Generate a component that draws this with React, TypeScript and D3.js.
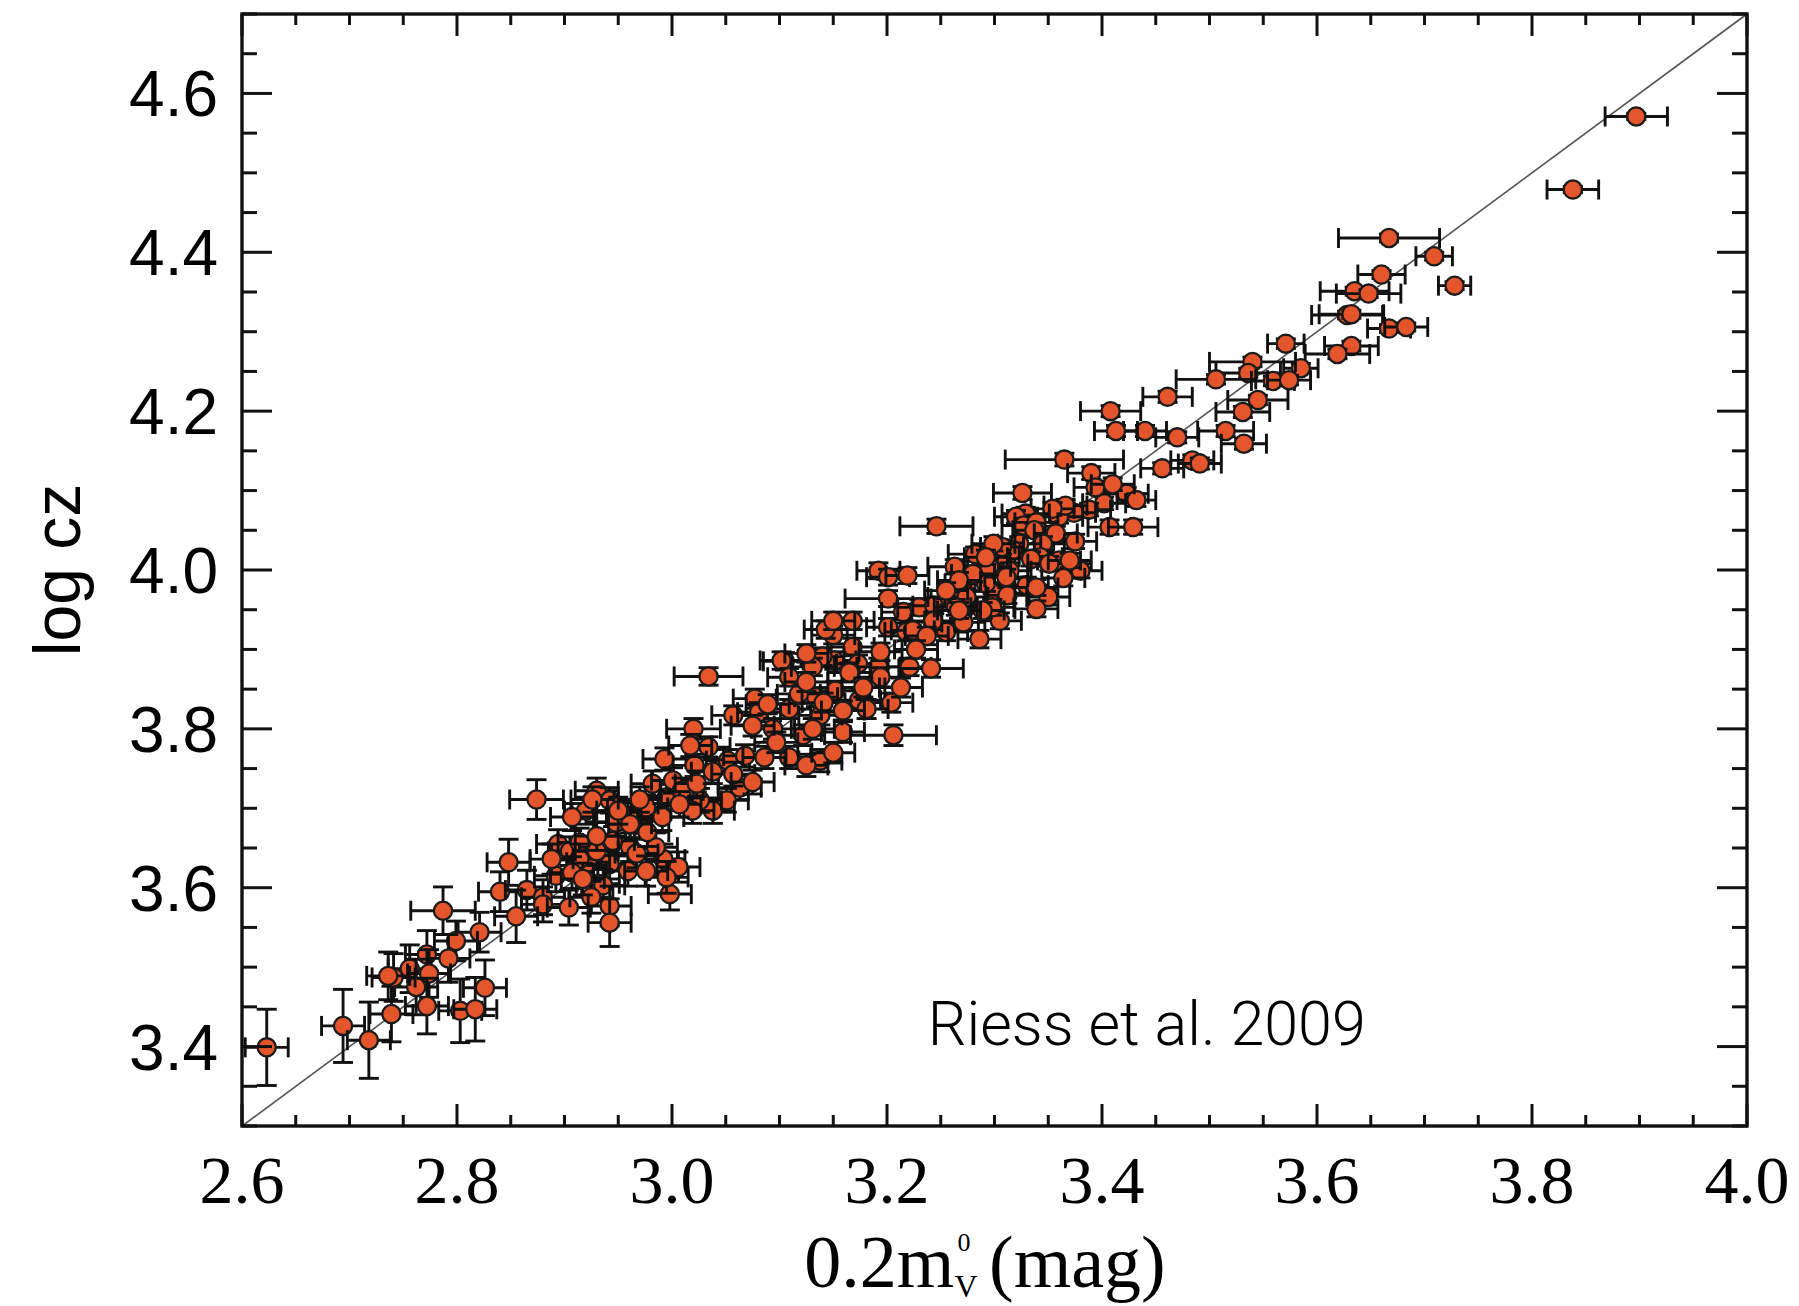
import React from 'react';
import * as d3 from 'd3';

// ---- axis definitions ----
const xDomain = [2.6, 4.0];
const yDomain = [3.3, 4.7];
const xMajorTicks = [2.6, 2.8, 3.0, 3.2, 3.4, 3.6, 3.8, 4.0];
const xTickLabels = ['2.6', '2.8', '3.0', '3.2', '3.4', '3.6', '3.8', '4.0'];
const yMajorTicks = [3.4, 3.6, 3.8, 4.0, 4.2, 4.4, 4.6];
const yTickLabels = ['3.4', '3.6', '3.8', '4.0', '4.2', '4.4', '4.6'];
const identityLine = [[2.6, 3.3], [4.0, 4.7]];
const annotation = { text: 'Riess et al. 2009', x: 3.238, y: 3.402 };

// ---- data: [0.2 m_V^0, log cz, x error, y error] ----
const highZ = [
  [3.897, 4.571, 0.029, 0.004], [3.838, 4.479, 0.024, 0.004], [3.667, 4.418, 0.047, 0.005],
  [3.709, 4.395, 0.017, 0.005], [3.728, 4.358, 0.015, 0.005], [3.660, 4.372, 0.022, 0.005],
  [3.635, 4.351, 0.032, 0.005], [3.648, 4.348, 0.030, 0.005], [3.628, 4.321, 0.033, 0.005],
  [3.632, 4.322, 0.030, 0.005], [3.667, 4.304, 0.020, 0.005], [3.683, 4.306, 0.020, 0.005],
  [3.632, 4.282, 0.025, 0.006], [3.619, 4.272, 0.030, 0.006], [3.571, 4.285, 0.017, 0.006],
  [3.585, 4.254, 0.016, 0.006], [3.540, 4.262, 0.040, 0.006], [3.536, 4.248, 0.030, 0.006],
  [3.559, 4.238, 0.020, 0.006], [3.574, 4.239, 0.020, 0.006], [3.506, 4.240, 0.037, 0.006],
  [3.545, 4.214, 0.028, 0.006], [3.531, 4.199, 0.025, 0.007], [3.461, 4.218, 0.023, 0.007],
  [3.515, 4.175, 0.026, 0.007], [3.532, 4.159, 0.021, 0.007], [3.470, 4.167, 0.020, 0.007],
  [3.440, 4.175, 0.020, 0.007], [3.456, 4.128, 0.020, 0.007], [3.484, 4.138, 0.020, 0.007],
  [3.491, 4.134, 0.020, 0.007], [3.408, 4.200, 0.028, 0.007], [3.413, 4.175, 0.020, 0.007],
  [3.365, 4.139, 0.055, 0.008], [3.390, 4.122, 0.022, 0.008], [3.394, 4.104, 0.020, 0.008],
  [3.410, 4.108, 0.020, 0.008],
];

const midUpper = [
  [3.326, 4.097, 0.027, 0.008], [3.423, 4.096, 0.020, 0.008], [3.432, 4.088, 0.018, 0.008],
  [3.402, 4.084, 0.020, 0.008], [3.388, 4.076, 0.020, 0.008], [3.374, 4.072, 0.020, 0.008],
  [3.360, 4.067, 0.022, 0.008], [3.366, 4.081, 0.020, 0.008], [3.354, 4.077, 0.020, 0.008],
  [3.407, 4.054, 0.020, 0.009], [3.429, 4.054, 0.023, 0.009], [3.329, 4.071, 0.022, 0.008],
  [3.320, 4.067, 0.020, 0.008], [3.375, 4.036, 0.020, 0.009], [3.246, 4.055, 0.034, 0.009],
  [3.327, 4.056, 0.020, 0.009], [3.339, 4.060, 0.020, 0.009], [3.337, 4.050, 0.020, 0.009],
  [3.357, 4.046, 0.020, 0.009], [3.345, 4.033, 0.020, 0.009], [3.323, 4.033, 0.020, 0.009],
  [3.282, 4.020, 0.025, 0.009], [3.263, 4.004, 0.025, 0.009], [3.380, 3.999, 0.020, 0.009],
  [3.364, 3.990, 0.020, 0.010], [3.330, 3.981, 0.020, 0.010], [3.350, 3.966, 0.020, 0.010],
  [3.339, 3.951, 0.020, 0.010], [3.305, 3.936, 0.020, 0.010], [3.286, 3.913, 0.020, 0.011],
  [3.192, 3.999, 0.020, 0.010], [3.201, 3.991, 0.020, 0.010], [3.219, 3.993, 0.020, 0.010],
  [3.201, 3.964, 0.040, 0.010], [3.215, 3.947, 0.020, 0.010], [3.230, 3.953, 0.020, 0.010],
  [3.244, 3.955, 0.020, 0.010], [3.201, 3.928, 0.020, 0.011], [3.218, 3.922, 0.020, 0.011],
  [3.255, 3.922, 0.020, 0.011], [3.243, 3.936, 0.020, 0.011], [3.271, 3.934, 0.020, 0.011],
  [3.258, 3.966, 0.020, 0.010], [3.274, 3.983, 0.020, 0.010], [3.292, 3.995, 0.020, 0.010],
  [3.298, 3.974, 0.020, 0.010], [3.311, 4.014, 0.020, 0.009], [3.317, 4.025, 0.020, 0.009],
  [3.307, 4.029, 0.020, 0.009], [3.343, 4.016, 0.020, 0.009], [3.360, 4.012, 0.020, 0.009],
  [3.334, 4.014, 0.020, 0.009], [3.351, 4.008, 0.020, 0.009], [3.314, 3.999, 0.020, 0.010],
  [3.292, 3.983, 0.020, 0.010], [3.274, 3.966, 0.020, 0.010], [3.312, 3.968, 0.020, 0.010],
  [3.370, 4.012, 0.020, 0.009], [3.298, 3.953, 0.020, 0.010], [3.289, 3.949, 0.020, 0.010],
  [3.264, 3.953, 0.020, 0.010], [3.339, 3.978, 0.020, 0.010], [3.311, 3.991, 0.020, 0.010],
  [3.295, 4.004, 0.020, 0.010], [3.280, 3.995, 0.020, 0.010], [3.267, 3.987, 0.020, 0.010],
  [3.255, 3.974, 0.020, 0.010], [3.267, 3.949, 0.020, 0.010], [3.299, 4.033, 0.020, 0.009],
  [3.292, 4.016, 0.020, 0.009], [3.168, 3.903, 0.020, 0.011], [3.150, 3.918, 0.020, 0.011],
  [3.105, 3.885, 0.020, 0.011], [3.151, 3.886, 0.020, 0.011], [3.173, 3.882, 0.020, 0.011],
  [3.192, 3.878, 0.020, 0.011], [3.221, 3.878, 0.020, 0.011], [3.241, 3.876, 0.030, 0.011],
  [3.194, 3.897, 0.020, 0.011], [3.034, 3.866, 0.032, 0.011], [3.102, 3.886, 0.020, 0.011],
  [3.109, 3.865, 0.020, 0.011], [3.224, 3.924, 0.020, 0.011], [3.237, 3.917, 0.020, 0.011],
  [3.227, 3.900, 0.020, 0.011], [3.140, 3.891, 0.020, 0.011], [3.131, 3.878, 0.020, 0.011],
  [3.125, 3.895, 0.020, 0.011], [3.143, 3.925, 0.020, 0.011], [3.168, 3.936, 0.020, 0.011],
  [3.150, 3.936, 0.020, 0.011], [3.194, 3.865, 0.020, 0.012], [3.125, 3.859, 0.020, 0.012],
  [3.165, 3.871, 0.020, 0.012], [3.178, 3.852, 0.020, 0.012], [3.213, 3.852, 0.020, 0.012],
];

const midLower = [
  [3.159, 3.796, 0.020, 0.013], [3.206, 3.792, 0.040, 0.013], [3.077, 3.838, 0.020, 0.012],
  [3.057, 3.817, 0.020, 0.012], [3.020, 3.800, 0.025, 0.013], [3.034, 3.777, 0.020, 0.013],
  [2.993, 3.762, 0.020, 0.014], [3.021, 3.754, 0.020, 0.014], [3.052, 3.760, 0.020, 0.014],
  [3.068, 3.766, 0.020, 0.014], [3.063, 3.726, 0.020, 0.015], [3.051, 3.710, 0.020, 0.015],
  [3.038, 3.697, 0.020, 0.016], [3.026, 3.710, 0.020, 0.015], [3.109, 3.825, 0.020, 0.012],
  [3.138, 3.817, 0.020, 0.012], [3.122, 3.792, 0.020, 0.013], [3.109, 3.764, 0.020, 0.014],
  [3.086, 3.764, 0.020, 0.014], [3.174, 3.836, 0.020, 0.012], [3.204, 3.833, 0.020, 0.012],
  [3.152, 3.848, 0.020, 0.012], [3.134, 3.840, 0.020, 0.012], [3.118, 3.844, 0.020, 0.012],
  [3.081, 3.821, 0.020, 0.012], [3.094, 3.800, 0.020, 0.013], [3.097, 3.783, 0.020, 0.013],
  [3.141, 3.833, 0.020, 0.012], [3.181, 3.825, 0.020, 0.012], [3.089, 3.831, 0.020, 0.012],
  [3.159, 3.823, 0.020, 0.012], [3.075, 3.804, 0.020, 0.013], [3.138, 3.760, 0.020, 0.014],
  [3.125, 3.754, 0.020, 0.014], [3.131, 3.800, 0.020, 0.013], [3.150, 3.770, 0.020, 0.013],
  [3.017, 3.779, 0.020, 0.014], [2.930, 3.722, 0.020, 0.016], [2.942, 3.710, 0.020, 0.016],
  [2.959, 3.690, 0.020, 0.017], [2.970, 3.692, 0.020, 0.017], [2.948, 3.682, 0.020, 0.017],
  [2.920, 3.697, 0.020, 0.017], [2.907, 3.689, 0.020, 0.017], [2.874, 3.711, 0.025, 0.025],
  [2.930, 3.665, 0.020, 0.018], [2.977, 3.670, 0.020, 0.018], [2.995, 3.714, 0.020, 0.016],
  [2.982, 3.731, 0.020, 0.016], [3.001, 3.735, 0.020, 0.016], [3.009, 3.722, 0.020, 0.016],
  [2.976, 3.701, 0.020, 0.016], [2.991, 3.689, 0.020, 0.017], [3.019, 3.697, 0.020, 0.016],
  [3.023, 3.731, 0.020, 0.016], [3.038, 3.746, 0.020, 0.015], [3.057, 3.743, 0.020, 0.015],
  [3.075, 3.733, 0.020, 0.015], [2.961, 3.680, 0.020, 0.017], [2.926, 3.711, 0.020, 0.016],
  [2.950, 3.697, 0.020, 0.017], [2.970, 3.711, 0.020, 0.016], [3.007, 3.705, 0.020, 0.016],
];

const lowZ = [
  [2.942, 3.630, 0.020, 0.019], [2.959, 3.621, 0.020, 0.019], [2.992, 3.636, 0.020, 0.019],
  [3.006, 3.626, 0.020, 0.019], [2.998, 3.592, 0.020, 0.020], [2.931, 3.605, 0.020, 0.020],
  [2.848, 3.632, 0.020, 0.029], [2.840, 3.595, 0.020, 0.025], [2.865, 3.597, 0.020, 0.025],
  [2.880, 3.588, 0.020, 0.022], [2.880, 3.579, 0.020, 0.022], [2.855, 3.564, 0.020, 0.033],
  [2.904, 3.575, 0.020, 0.022], [2.787, 3.571, 0.030, 0.030], [2.821, 3.544, 0.020, 0.025],
  [2.799, 3.533, 0.020, 0.025], [2.772, 3.516, 0.020, 0.030], [2.792, 3.511, 0.020, 0.030],
  [2.756, 3.498, 0.020, 0.030], [2.774, 3.492, 0.020, 0.030], [2.762, 3.475, 0.020, 0.035],
  [2.826, 3.474, 0.020, 0.035], [2.772, 3.451, 0.020, 0.035], [2.803, 3.445, 0.020, 0.040],
  [2.817, 3.447, 0.020, 0.040], [2.936, 3.603, 0.020, 0.020], [2.925, 3.588, 0.020, 0.020],
  [2.942, 3.577, 0.020, 0.025], [2.942, 3.556, 0.020, 0.030], [2.995, 3.613, 0.020, 0.020],
  [2.623, 3.399, 0.020, 0.048], [2.694, 3.426, 0.020, 0.046], [2.718, 3.408, 0.020, 0.048],
  [2.739, 3.441, 0.020, 0.035], [2.741, 3.487, 0.020, 0.030], [2.736, 3.489, 0.020, 0.030],
  [2.894, 3.655, 0.020, 0.018], [2.905, 3.646, 0.020, 0.018], [2.914, 3.657, 0.020, 0.018],
  [2.922, 3.632, 0.020, 0.019], [2.961, 3.651, 0.020, 0.018], [2.985, 3.651, 0.020, 0.018],
  [2.967, 3.643, 0.020, 0.018], [2.976, 3.621, 0.020, 0.019], [2.914, 3.636, 0.020, 0.019],
  [2.945, 3.659, 0.020, 0.018], [2.892, 3.615, 0.020, 0.020], [2.907, 3.619, 0.020, 0.020],
  [2.917, 3.611, 0.020, 0.020], [2.930, 3.646, 0.020, 0.018], [2.888, 3.636, 0.020, 0.019],
];

const allPoints = [...lowZ, ...midLower, ...midUpper, ...highZ];

export default function App() {
  const W = 1799;
  const H = 1306;
  const left = 242, right = 1747, top = 14, bottom = 1126;
  const x = d3.scaleLinear().domain(xDomain).range([left, right]);
  const y = d3.scaleLinear().domain(yDomain).range([bottom, top]);
  const xMinor = x.ticks(28);
  const yMinor = y.ticks(28);
  const isMajor = (v: number, arr: number[]) => arr.some((m) => Math.abs(m - v) < 1e-6);

  const axisStroke = '#111';
  const majorX = 22, minorX = 11; // tick lengths on x axes (vertical ticks)
  const majorY = 30, minorY = 15; // tick lengths on y axes (horizontal ticks)
  const cap = 10;
  const line = d3.line<number[]>().x((d) => x(d[0])).y((d) => y(d[1]));

  const sans = "'Liberation Sans', Arial, Helvetica, sans-serif";
  const serif = "'Liberation Serif', 'Times New Roman', Times, serif";

  return (
    <svg width={W} height={H} style={{ position: 'absolute', left: 0, top: 0, background: '#fff' }}>
      <rect x={0} y={0} width={W} height={H} fill="#fff" />
      {/* identity line */}
      <path d={line(identityLine) || ''} stroke="#555" strokeWidth={1.6} fill="none" />

      {/* data */}
      <g>
        {allPoints.map((d, i) => {
          const cx = x(d[0]);
          const cy = y(d[1]);
          const x0 = x(d[0] - d[2]);
          const x1 = x(d[0] + d[2]);
          const y0 = y(d[1] - d[3]);
          const y1 = y(d[1] + d[3]);
          return (
            <g key={i}>
              <g stroke="#111" strokeWidth={2.9} fill="none">
                <line x1={x0} x2={x1} y1={cy} y2={cy} />
                <line x1={x0} x2={x0} y1={cy - cap} y2={cy + cap} />
                <line x1={x1} x2={x1} y1={cy - cap} y2={cy + cap} />
                <line x1={cx} x2={cx} y1={y0} y2={y1} />
                <line x1={cx - cap} x2={cx + cap} y1={y0} y2={y0} />
                <line x1={cx - cap} x2={cx + cap} y1={y1} y2={y1} />
              </g>
              <circle cx={cx} cy={cy} r={9.1} fill="#e4552c" stroke="#1a1a1a" strokeWidth={2.3} />
            </g>
          );
        })}
      </g>

      {/* frame */}
      <rect x={left} y={top} width={right - left} height={bottom - top} fill="none" stroke={axisStroke} strokeWidth={3.4} />

      {/* ticks */}
      <g stroke={axisStroke} strokeWidth={3}>
        {xMinor.map((v) => {
          const len = isMajor(v, xMajorTicks) ? majorX : minorX;
          return (
            <g key={'xt' + v}>
              <line x1={x(v)} x2={x(v)} y1={bottom} y2={bottom - len} />
              <line x1={x(v)} x2={x(v)} y1={top} y2={top + len} />
            </g>
          );
        })}
        {yMinor.map((v) => {
          const len = isMajor(v, yMajorTicks) ? majorY : minorY;
          return (
            <g key={'yt' + v}>
              <line x1={left} x2={left + len} y1={y(v)} y2={y(v)} />
              <line x1={right} x2={right - len} y1={y(v)} y2={y(v)} />
            </g>
          );
        })}
      </g>

      {/* tick labels */}
      <g fontFamily={serif} fontSize={68} fill="#000" textAnchor="middle">
        {xMajorTicks.map((v, i) => (
          <text key={'xl' + v} x={x(v)} y={1203}>{xTickLabels[i]}</text>
        ))}
      </g>
      <g fontFamily={sans} fontSize={64} fill="#000" textAnchor="end">
        {yMajorTicks.map((v, i) => (
          <text key={'yl' + v} x={218} y={y(v) + 23}>{yTickLabels[i]}</text>
        ))}
      </g>

      {/* axis titles */}
      <text x={985} y={1287} textAnchor="middle" fontFamily={serif} fontSize={74} fill="#000">
        0.2m<tspan fontSize={32} dy={10}>V</tspan>
        <tspan fontSize={26} dx={-20} dy={-46}>0</tspan>
        <tspan fontSize={74} dy={36}>{'\u00A0(mag)'}</tspan>
      </text>
      <text
        transform={`translate(57, ${(top + bottom) / 2}) rotate(-90)`}
        textAnchor="middle"
        dominantBaseline="central"
        fontFamily={sans}
        fontSize={66}
        fill="#000"
      >
        log cz
      </text>

      {/* annotation */}
      <text
        x={x(annotation.x)}
        y={y(annotation.y)}
        fontFamily="Roboto, Lato, 'Open Sans', sans-serif"
        fontWeight={300}
        fontSize={61}
        fill="#000"
      >
        {annotation.text}
      </text>
    </svg>
  );
}
